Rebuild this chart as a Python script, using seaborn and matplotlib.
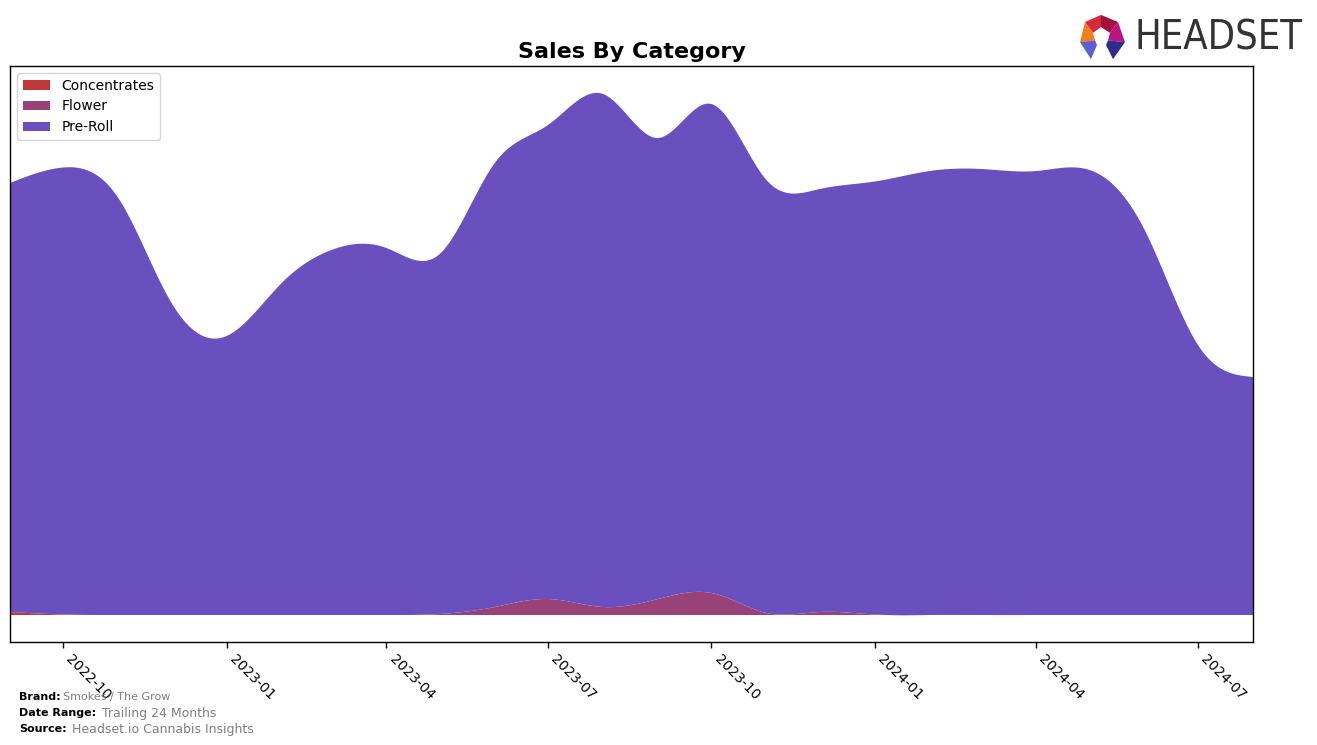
import numpy as np
import pandas as pd
import matplotlib
matplotlib.use("Agg")
import matplotlib.pyplot as plt
import matplotlib.dates as mdates
from matplotlib.patches import Polygon
from matplotlib import font_manager
from matplotlib.font_manager import FontProperties
import seaborn as sns

# ---------------- data (monthly sales) ----------------
months = pd.date_range("2022-09-01", "2024-08-01", freq="MS")
categories = ["Concentrates", "Flower", "Pre-Roll"]
concentrates = [3.0, 0.5, 0, 0, 0, 0, 0, 0, 0, 0, 0, 0,
                0, 0, 0, 0, 0, 0, 0, 0, 0, 0, 0, 0]
flower = [0, 0, 0, 0, 0, 0, 0, 0, 1, 8, 16, 8,
          16, 22, 2, 3, 0.5, 0, 0, 0, 0, 0, 0, 0]
pre_roll = [429, 447, 417, 312, 279, 332, 365, 367, 360, 444, 474, 513,
            461, 489, 433, 423, 433, 444, 446, 444, 445, 385, 270, 238]
tick_months = [1, 4, 7, 10]

cat_colors = ["#C13638", "#984277", "#6A4FBE"]

# ---------------- style ----------------
sns.set_style("white", {"axes.edgecolor": "black", "xtick.bottom": True,
                        "xtick.color": "black", "text.color": "black"})
plt.rcParams["font.family"] = ["DejaVu Sans"]


def smooth(x, y, xs):
    """natural cubic spline through the monthly points"""
    x = np.asarray(x, float)
    y = np.asarray(y, float)
    n = len(x)
    h = np.diff(x)
    A = np.zeros((n, n))
    b = np.zeros(n)
    A[0, 0] = 1
    A[-1, -1] = 1
    for i in range(1, n - 1):
        A[i, i - 1] = h[i - 1]
        A[i, i] = 2 * (h[i - 1] + h[i])
        A[i, i + 1] = h[i]
        b[i] = 6 * ((y[i + 1] - y[i]) / h[i] - (y[i] - y[i - 1]) / h[i - 1])
    M = np.linalg.solve(A, b)
    idx = np.clip(np.searchsorted(x, xs) - 1, 0, n - 2)
    x0 = x[idx]
    x1 = x[idx + 1]
    hh = x1 - x0
    t0 = x1 - xs
    t1 = xs - x0
    return (M[idx] * t0 ** 3 / (6 * hh) + M[idx + 1] * t1 ** 3 / (6 * hh)
            + (y[idx] / hh - M[idx] * hh / 6) * t0
            + (y[idx + 1] / hh - M[idx + 1] * hh / 6) * t1)


xnum = mdates.date2num(months)
xs = np.linspace(xnum[0], xnum[-1], 800)
series = [smooth(xnum, s, xs) for s in (concentrates, flower, pre_roll)]

W, H = 1317, 745
fig = plt.figure(figsize=(W / 100, H / 100), dpi=100)
ax = fig.add_axes([10 / W, 1 - 642 / H, 1243 / W, 576 / H])

polys = ax.stackplot(mdates.num2date(xs), *series, labels=categories,
                     colors=cat_colors, linewidth=0)
for p in polys:
    p.set_edgecolor("none")

ax.set_xlim(months[0], months[-1])
ax.set_ylim(-27, 549)
ax.set_yticks([])
ax.xaxis.set_major_locator(mdates.MonthLocator(bymonth=tick_months))
ax.xaxis.set_major_formatter(mdates.DateFormatter("%Y-%m"))
ax.tick_params(axis="x", labelsize=10, length=4, width=1, colors="black")
for lab in ax.get_xticklabels():
    lab.set_rotation(-45)
    lab.set_ha("left")
for sp in ax.spines.values():
    sp.set_color("black")
    sp.set_linewidth(1)

ax.set_title("Sales By Category", fontsize=16, fontweight="bold", pad=6)
ax.legend(loc="upper left", fontsize=10, frameon=True, borderaxespad=0.5)

# ---------------- footer ----------------
gray = "#7f7f7f"
rows = [("Brand:", "Smokes / The Grow", 697, 8, 2),
        ("Date Range:", "Trailing 24 Months", 713, 9, 4),
        ("Source:", "Headset.io Cannabis Insights", 729, 9, 4)]
for lbl, val, ypix, vsize, off in rows:
    t = fig.text(19 / W, 1 - ypix / H, lbl, fontsize=8, fontweight="bold",
                 va="center", ha="left", color="black")
    fig.canvas.draw()
    ax.annotate(val, xy=(1, 0.5), xycoords=t, xytext=(off, 0),
                textcoords="offset points", fontsize=vsize, color=gray,
                va="center", ha="left", annotation_clip=False)

# ---------------- logo ----------------
lax = fig.add_axes([1078 / W, 1 - 61 / H, 50 / W, 47 / H])
lax.set_xlim(0, 100)
lax.set_ylim(0, 100)
lax.axis("off")
pieces = [
    ([(46, 98), (14, 83), (30, 60), (46, 72)], "#D42A3C"),
    ([(46, 98), (80, 83), (64, 60), (46, 72)], "#A3123E"),
    ([(14, 83), (4, 40), (34, 44), (30, 60)], "#F47D22"),
    ([(80, 83), (94, 40), (60, 44), (64, 60)], "#B8157E"),
    ([(4, 40), (34, 44), (38, 34), (26, 4)], "#5E5FD0"),
    ([(94, 40), (60, 44), (56, 34), (70, 4)], "#2E2C91"),
]
for pts, c in pieces:
    lax.add_patch(Polygon(pts, closed=True, facecolor=c, edgecolor="none"))

# choose a narrow face for the wordmark if one is installed
logo_kw = dict(family="DejaVu Sans", fontsize=26)
try:
    fp = FontProperties(family="DejaVu Sans", stretch="condensed")
    path = font_manager.findfont(fp, fallback_to_default=False)
    if "Condensed" in path:
        logo_kw = dict(family="DejaVu Sans", stretch="condensed", fontsize=28.5)
    else:
        raise ValueError
except Exception:
    try:
        path = font_manager.findfont(FontProperties(family="Liberation Sans Narrow"),
                                     fallback_to_default=False)
        logo_kw = dict(family="Liberation Sans Narrow", fontsize=36)
    except Exception:
        pass
fig.text(1134 / W, 1 - 38 / H, "HEADSET", color="#333333", va="center",
         ha="left", **logo_kw)

fig.savefig("out.png", dpi=100)
